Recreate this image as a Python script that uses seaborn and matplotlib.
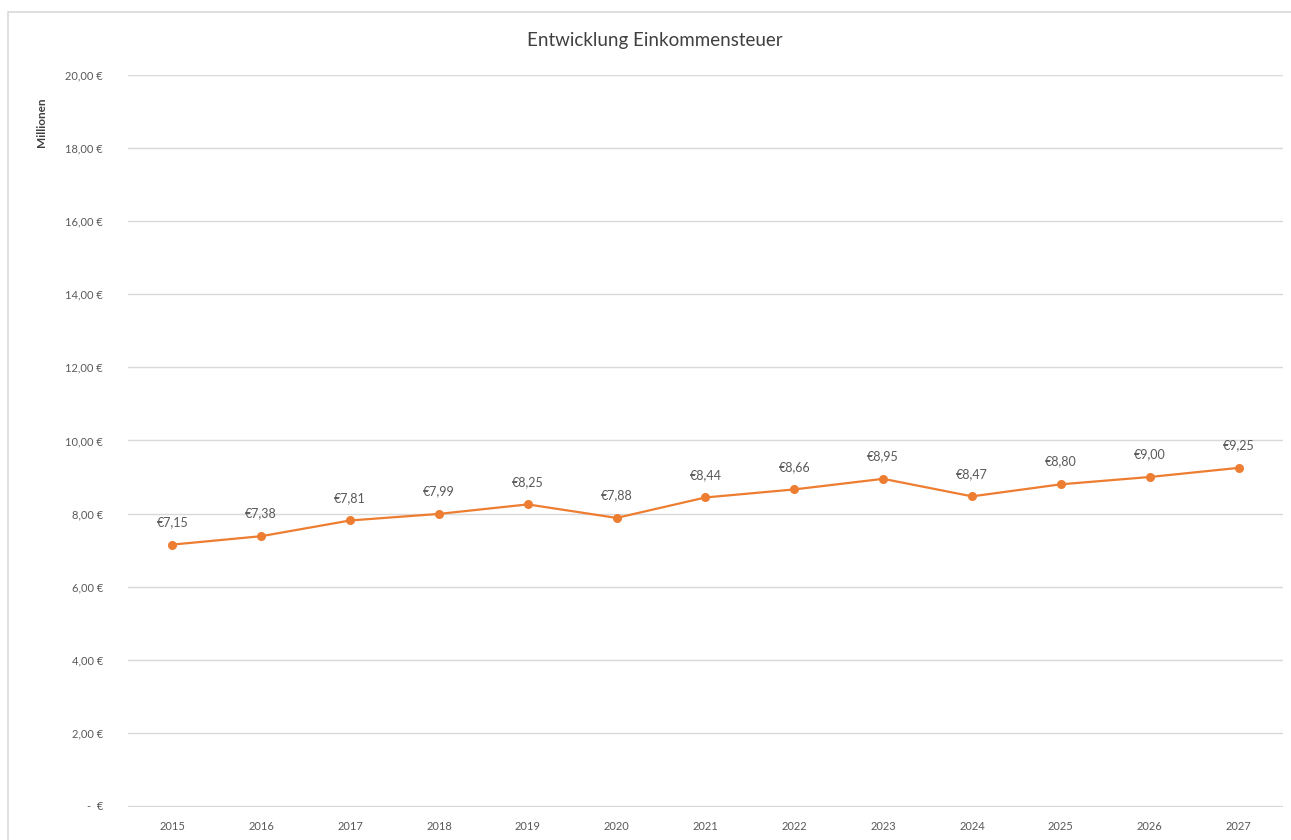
import matplotlib
matplotlib.use("Agg")
import matplotlib.pyplot as plt
import seaborn as sns
import pandas as pd
from matplotlib.patches import Rectangle

years = ["2015", "2016", "2017", "2018", "2019", "2020", "2021", "2022", "2023", "2024", "2025", "2026", "2027"]
values = [7.15, 7.38, 7.81, 7.99, 8.25, 7.88, 8.44, 8.66, 8.95, 8.47, 8.80, 9.00, 9.25]
y_ticks = [0, 2, 4, 6, 8, 10, 12, 14, 16, 18, 20]

df = pd.DataFrame({"Jahr": years, "Wert": values})

sns.set_theme(style="white")
plt.rcParams["font.family"] = ["Lato", "DejaVu Sans"]

orange = "#ED7D31"
gray_txt = "#595959"

fig = plt.figure(figsize=(12.91, 8.40), dpi=100)
ax = fig.add_axes([0.0991, 0.0393, 0.8947, 0.8714])

xpos = list(range(len(years)))
df["x"] = xpos
sns.lineplot(data=df, x="x", y="Wert", ax=ax, color=orange, linewidth=1.6,
             marker="o", markersize=6.5, markeredgewidth=0, zorder=3)

ax.set_xlim(-0.5, len(years) - 0.5)
ax.set_ylim(-0.03, 20)
ax.set_yticks(y_ticks)
ax.set_yticklabels(["-  €" if v == 0 else f"{v:.2f}".replace(".", ",") + " €" for v in y_ticks])
ax.set_xticks(xpos)
ax.set_xticklabels(years)
ax.tick_params(axis="both", length=0, labelsize=8, colors=gray_txt)
ax.tick_params(axis="y", pad=18)
ax.tick_params(axis="x", pad=10)
ax.grid(axis="y", color="#D9D9D9", linewidth=1)
ax.set_axisbelow(True)
for s in ax.spines.values():
    s.set_visible(False)
ax.set_xlabel("")
ax.set_ylabel("Millionen", fontsize=8.5, color="#404040", fontweight="bold")
ax.yaxis.set_label_coords(-0.07, 0.935)

for x, v in zip(xpos, values):
    ax.annotate("€" + f"{v:.2f}".replace(".", ","), (x, v), xytext=(0, 12),
                textcoords="offset points", ha="center", va="bottom",
                fontsize=9, color=gray_txt)

fig.text(0.507, 0.952, "Entwicklung Einkommensteuer", ha="center", va="center",
         fontsize=13.5, color="#404040")

fig.patches.append(Rectangle((8 / 1291, -0.01), 1.02, 0.998 - 10 / 840 + 0.01,
                             transform=fig.transFigure, fill=False,
                             edgecolor="#D9D9D9", linewidth=1.2))

fig.savefig("out.png", dpi=100, facecolor="white")
